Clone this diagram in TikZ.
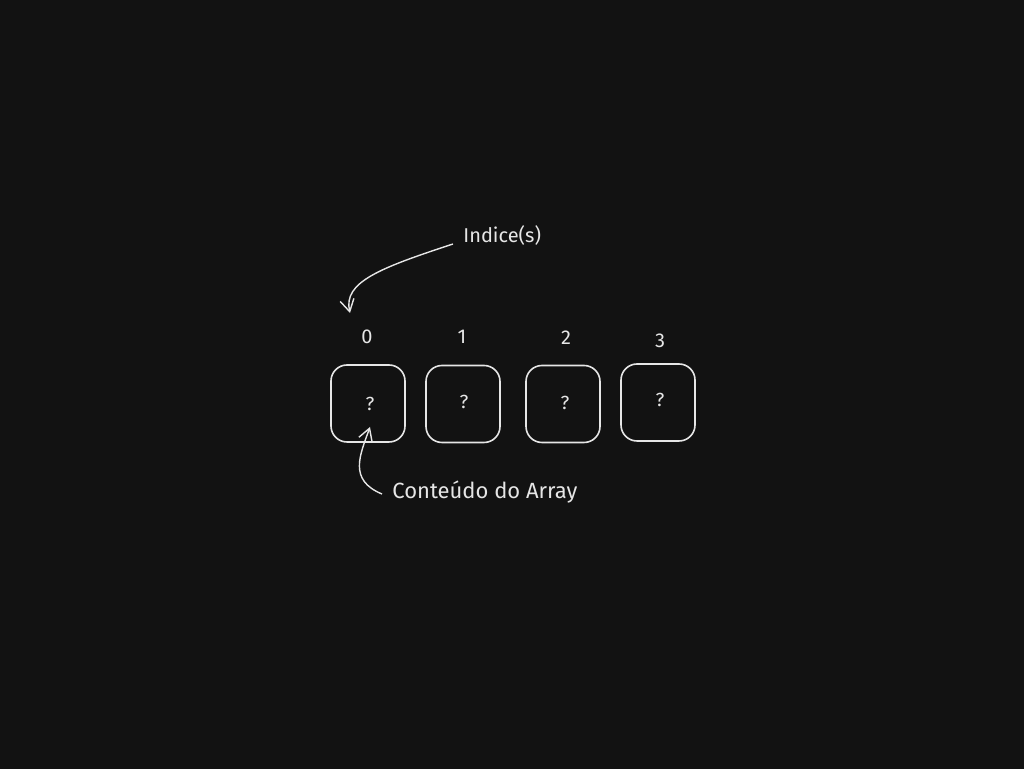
\documentclass[tikz,border=0pt]{standalone}
\usepackage{fontspec}
\setmainfont{Fira Sans}
\usetikzlibrary{arrows.meta}
\definecolor{bgdark}{HTML}{121212}
\definecolor{chalk}{HTML}{E6E6E6}

\begin{document}
\begin{tikzpicture}[x=0.5pt, y=-0.5pt,
		cell/.style={draw=chalk, line width=0.8pt, rounded corners=8pt, minimum width=37pt, minimum height=38.5pt, inner sep=0pt},
		chalktext/.style={text=chalk, font=\fontsize{10}{12}\selectfont, inner sep=1pt},
		sketcharrow/.style={draw=chalk, line width=0.7pt, -{Straight Barb[length=6pt, width=7pt]}}]
		%%%%% START %%%%%
		
		\fill[bgdark] (0, 0) rectangle (1024, 769);
		
		% the array cells
		\node[cell] (box0) at (368, 403.5) {};
		\node[cell] (box1) at (463, 404) {};
		\node[cell] (box2) at (563, 404) {};
		\node[cell] (box3) at (658, 402.5) {};
		
		\node[chalktext, font=\fontsize{9.5}{11}\selectfont] (q0) at (370, 404) {?};
		\node[chalktext, font=\fontsize{9.5}{11}\selectfont] (q1) at (464, 402) {?};
		\node[chalktext, font=\fontsize{9.5}{11}\selectfont] (q2) at (565, 403) {?};
		\node[chalktext, font=\fontsize{9.5}{11}\selectfont] (q3) at (660, 400) {?};
		
		% the indices
		\node[chalktext] (n0) at (367, 337) {0};
		\node[chalktext] (n1) at (462, 337) {1};
		\node[chalktext] (n2) at (566, 338) {2};
		\node[chalktext] (n3) at (660, 341) {3};
		
		% labels and arrows
		\node[chalktext, anchor=west] (idx) at (461, 236) {Indice(s)};
		\coordinate (idxtip) at (350, 313);
		\draw[sketcharrow] ([xshift=-4pt, yshift=-4pt]idx.west) .. controls (380, 268) and (343, 282) .. (idxtip);
		
		\node[chalktext, anchor=west, font=\fontsize{11}{13}\selectfont] (content) at (390, 492) {Conteúdo do Array};
		\coordinate (celltip) at (370, 427);
		\draw[sketcharrow] ([xshift=-4pt, yshift=-1pt]content.west) .. controls (348, 480) and (360, 455) .. (celltip);
		
		%%%%% END %%%%%
	\end{tikzpicture}
\end{document}
